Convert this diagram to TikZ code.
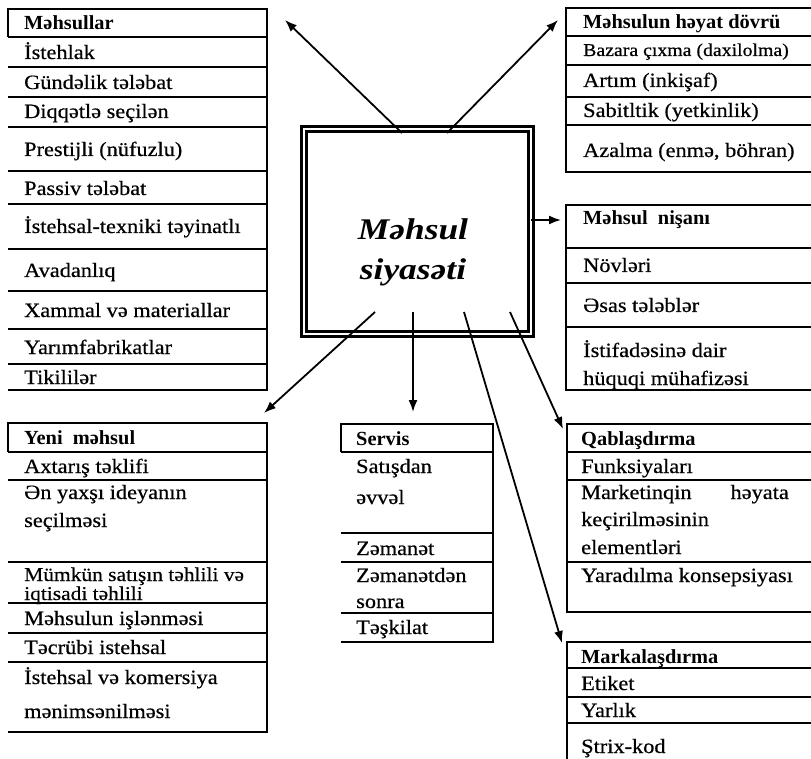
\documentclass[tikz,border=0pt]{standalone}
\usepackage{fontspec}
\setmainfont{Liberation Serif}[FakeStretch=1.1,FakeBold=0.5]
\newfontfamily\headfont{Liberation Serif}[FakeStretch=1.02]
\newfontfamily\corefont{Liberation Serif}[FakeStretch=1.18]
\usetikzlibrary{arrows.meta}

\begin{document}
\begin{tikzpicture}[x=1pt,y=-1pt,
  rule/.style={line width=1.8pt},
  frame/.style={line width=2pt},
  item/.style={anchor=base west,inner sep=0pt,font=\fontsize{20.3}{24}\selectfont},
  tight/.style={anchor=base west,inner sep=0pt,font=\fontsize{19.5}{22}\selectfont},
  small/.style={anchor=base west,inner sep=0pt,font=\fontsize{18}{22}\selectfont},
  head/.style={anchor=base west,inner sep=0pt,font=\headfont\bfseries\fontsize{20}{24}\selectfont},
  link/.style={line width=1.8pt,-{Latex[length=12pt,width=9pt]}}]

\useasboundingbox (0,0) rectangle (811,759);
\clip (0,0) rectangle (811,759);

% ---------- central block ----------
\node[draw,line width=2.8pt,double=white,double distance=2.2pt,
      minimum width=227pt,minimum height=205pt,inner sep=0pt] (core) at (417.5,231.5) {};
\node[inner sep=0pt,align=center,font=\corefont\bfseries\itshape\fontsize{30}{40}\selectfont]
  (coretext) at (413,252) {Məhsul\\siyasəti};

% ---------- Məhsullar ----------
\draw[frame] (8,37) -- (8,9) -- (267,9) -- (267,390) -- (8,390);
\foreach \y in {37,67,97,127,171,204,249,291,329,364} \draw[rule] (8,\y) -- (267,\y);
\node[head] (p0) at (24,30) {Məhsullar};
\node[item] (p1) at (24,59) {İstehlak};
\node[item] (p2) at (24,89) {Gündəlik tələbat};
\node[item] (p3) at (24,118) {Diqqətlə seçilən};
\node[item] (p4) at (24,156) {Prestijli (nüfuzlu)};
\node[item] (p5) at (24,195) {Passiv tələbat};
\node[item] (p6) at (24,233) {İstehsal-texniki təyinatlı};
\node[item] (p7) at (24,277) {Avadanlıq};
\node[item] (p8) at (24,317) {Xammal və materiallar};
\node[item] (p9) at (24,354) {Yarımfabrikatlar};
\node[item] (p10) at (24,384) {Tikililər};

% ---------- Məhsulun həyat dövrü ----------
\draw[frame] (830,8) -- (566,8) -- (566,172) -- (830,172);
\foreach \y in {36,65,97,125} \draw[rule] (566,\y) -- (830,\y);
\node[head] (c0) at (583,29) {Məhsulun həyat dövrü};
\node[small] (c1) at (583,56) {Bazara çıxma (daxilolma)};
\node[item] (c2) at (583,87) {Artım (inkişaf)};
\node[item] (c3) at (583,117) {Sabitltik (yetkinlik)};
\node[item] (c4) at (583,157) {Azalma (enmə, böhran)};

% ---------- Məhsul nişanı ----------
\draw[frame] (830,205) -- (566,205) -- (566,390) -- (830,390);
\foreach \y in {248,283,327} \draw[rule] (566,\y) -- (830,\y);
\node[head] (t0) at (583,225) {Məhsul\hspace{5pt} nişanı};
\node[item] (t1) at (583,272) {Növləri};
\node[item] (t2) at (583,312) {Əsas tələblər};
\node[item] (t3) at (583,357) {İstifadəsinə dair};
\node[item] (t4) at (583,385) {hüquqi mühafizəsi};

% ---------- Yeni məhsul ----------
\draw[frame] (8,452) -- (8,423) -- (267,423) -- (267,732) -- (8,732);
\foreach \y in {452,480,562,603,633,662} \draw[rule] (8,\y) -- (267,\y);
\node[head] (n0) at (24,444) {Yeni\hspace{5pt} məhsul};
\node[item] (n1) at (24,473) {Axtarış təklifi};
\node[item] (n2) at (24,499) {Ən yaxşı ideyanın};
\node[item] (n3) at (24,527) {seçilməsi};
\node[tight] (n4) at (24,581) {Mümkün satışın təhlili və};
\node[tight] (n5) at (24,600) {iqtisadi təhlili};
\node[item] (n6) at (24,625) {Məhsulun işlənməsi};
\node[item] (n7) at (24,654) {Təcrübi istehsal};
\node[item] (n8) at (24,684) {İstehsal və komersiya};
\node[item] (n9) at (24,718) {mənimsənilməsi};

% ---------- Servis ----------
\draw[frame] (341,452) -- (341,424) -- (493,424) -- (493,642) -- (341,642);
\foreach \y in {452,533,562,613} \draw[rule] (341,\y) -- (493,\y);
\node[head] (s0) at (356,445) {Servis};
\node[item] (s1) at (356,473) {Satışdan};
\node[item] (s2) at (356,504) {əvvəl};
\node[item] (s3) at (356,555) {Zəmanət};
\node[item] (s4) at (356,582) {Zəmanətdən};
\node[item] (s5) at (356,608) {sonra};
\node[item] (s6) at (356,634) {Təşkilat};

% ---------- Qablaşdırma ----------
\draw[frame] (830,424) -- (567,424) -- (567,612) -- (830,612);
\foreach \y in {452,480,562} \draw[rule] (567,\y) -- (830,\y);
\node[head] (q0) at (581,445) {Qablaşdırma};
\node[item] (q1) at (581,473) {Funksiyaları};
\node[item] (q2) at (581,499) {Marketinqin};
\node[item,anchor=base east] (q2b) at (789,499) {həyata};
\node[item] (q3) at (581,526) {keçirilməsinin};
\node[item] (q4) at (581,554) {elementləri};
\node[item] (q5) at (581,582) {Yaradılma konsepsiyası};

% ---------- Markalaşdırma ----------
\draw[frame] (830,642) -- (567,642) -- (567,775);
\foreach \y in {668,697,723} \draw[rule] (567,\y) -- (830,\y);
\node[head] (k0) at (581,663) {Markalaşdırma};
\node[item] (k1) at (581,690) {Etiket};
\node[item] (k2) at (581,717) {Yarlık};
\node[item] (k3) at (581,753) {Ştrix-kod};

% ---------- connectors ----------
\coordinate (aS) at (402,133);  \coordinate (aE) at (285,20);
\coordinate (bS) at (447,133);  \coordinate (bE) at (558,20);
\coordinate (cS) at (531,220);  \coordinate (cE) at (561,220);
\coordinate (dS) at (375,312);  \coordinate (dE) at (264,413);
\coordinate (eS) at (413,312);  \coordinate (eE) at (413,412);
\coordinate (fS) at (510,312);  \coordinate (fE) at (563,429);
\coordinate (gS) at (464,312);  \coordinate (gE) at (562,643);
\draw[link] (aS) -- (aE);
\draw[link] (bS) -- (bE);
\draw[link] (cS) -- (cE);
\draw[link] (dS) -- (dE);
\draw[link] (eS) -- (eE);
\draw[link] (fS) -- (fE);
\draw[link] (gS) -- (gE);
\end{tikzpicture}
\end{document}
